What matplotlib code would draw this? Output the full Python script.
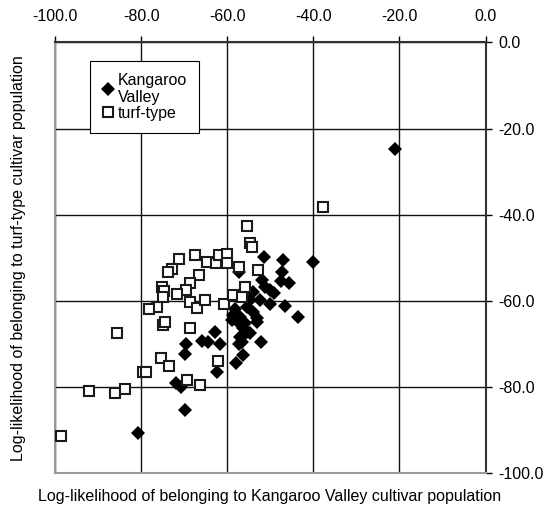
import matplotlib.pyplot as plt
from matplotlib.ticker import MultipleLocator

plt.rcParams['font.family'] = ['Liberation Sans', 'DejaVu Sans']

# Kangaroo Valley cultivars (x = LL Kangaroo Valley, y = LL turf-type)
kv_x = [-21.0, -51.4, -47.1, -40.2, -47.4, -57.2, -47.6, -45.6, -52.0, -51.2,
        -50.1, -49.1, -54.0, -54.7, -55.5, -50.2, -46.6, -43.5, -53.1, -58.2,
        -58.6, -57.4, -56.3, -55.5, -57.0, -56.7, -54.7, -52.1, -62.8, -64.4,
        -61.8, -66.0, -69.6, -69.8, -57.2, -56.3, -58.0, -62.5, -71.9, -70.8,
        -69.8, -80.7, -53.2, -56.3, -57.0, -54.0, -52.4, -55.9, -59.0]
kv_y = [-24.8, -49.7, -50.6, -50.9, -53.2, -53.2, -55.3, -55.8, -55.2, -56.7,
        -57.5, -58.2, -57.9, -59.8, -61.3, -60.8, -61.1, -63.8, -64.0, -61.9,
        -63.3, -65.2, -66.4, -67.2, -68.3, -69.5, -67.5, -69.6, -67.2, -69.6,
        -69.9, -69.2, -69.9, -72.3, -70.0, -72.6, -74.5, -76.5, -79.1, -79.9,
        -85.2, -90.6, -64.8, -67.9, -63.7, -62.5, -59.8, -65.2, -64.4]

# turf-type cultivars
tt_x = [-37.8, -55.5, -54.7, -54.2, -71.2, -72.8, -73.9, -67.5, -64.8, -62.6,
        -61.9, -60.1, -60.2, -57.4, -53.0, -66.7, -68.8, -69.6, -71.8, -75.2,
        -74.7, -74.9, -76.4, -78.2, -68.6, -67.1, -65.2, -60.9, -58.8, -56.5,
        -55.8, -74.9, -74.6, -68.7, -85.6, -62.1, -75.5, -73.6, -79.7, -78.9,
        -69.4, -66.3, -92.2, -86.1, -83.7, -98.7]
tt_y = [-38.3, -42.6, -46.6, -47.4, -50.3, -52.6, -53.4, -49.3, -51.0, -51.1,
        -49.4, -49.0, -51.2, -52.1, -52.8, -54.0, -55.9, -57.5, -58.4, -56.8,
        -57.8, -59.0, -61.3, -61.9, -60.3, -61.7, -59.8, -60.7, -58.7, -59.1,
        -56.7, -65.6, -65.0, -66.4, -67.4, -74.0, -73.2, -75.1, -76.6, -76.6,
        -78.4, -79.6, -80.9, -81.3, -80.4, -91.3]

ticks = [-100, -80, -60, -40, -20, 0]
fs = 11.5

fig = plt.figure(figsize=(5.46, 5.08), dpi=100)
ax = fig.add_axes([0.1013, 0.0683, 0.7879, 0.8484])

ax.plot(kv_x, kv_y, 'D', color='black', markersize=6.8, markeredgewidth=0,
        label='Kangaroo\nValley', zorder=3)
ax.plot(tt_x, tt_y, 's', markerfacecolor='white', markeredgecolor='#1a1a1a',
        markersize=6.6, markeredgewidth=1.5, label='turf-type', zorder=4)

ax.set_xlim(-100, 0)
ax.set_ylim(-100, 0)
ax.set_xticks(ticks)
ax.set_yticks(ticks)
ax.set_xticklabels(['%.1f' % t for t in ticks])
ax.set_yticklabels(['%.1f' % t for t in ticks])
ax.xaxis.tick_top()
ax.yaxis.tick_right()
ax.tick_params(axis='x', direction='out', length=4, width=1, pad=9, labelsize=fs)
ax.tick_params(axis='y', direction='out', length=4, width=1, pad=5, labelsize=fs)

ax.grid(True, color='#111111', linewidth=1)
ax.set_axisbelow(True)
ax.spines['left'].set_color('#999999')
ax.spines['bottom'].set_color('#999999')
ax.spines['top'].set_color('#333333')
ax.spines['right'].set_color('#333333')
for s in ax.spines.values():
    s.set_linewidth(1.5)

fig.text(0.494, 0.023, 'Log-likelihood of belonging to Kangaroo Valley cultivar population',
         ha='center', va='center', fontsize=fs)
fig.text(0.033, 0.492, 'Log-likelihood of belonging to turf-type cultivar population',
         ha='center', va='center', rotation=90, fontsize=fs)

leg = ax.legend(loc='upper left', bbox_to_anchor=(0.0807, 0.957), frameon=True,
                fancybox=False, framealpha=1, edgecolor='black', fontsize=fs,
                handlelength=0.7, handletextpad=0.3, borderpad=0.75,
                labelspacing=0.05, borderaxespad=0)
leg.get_frame().set_linewidth(0.8)

fig.savefig('out.png', dpi=100)
